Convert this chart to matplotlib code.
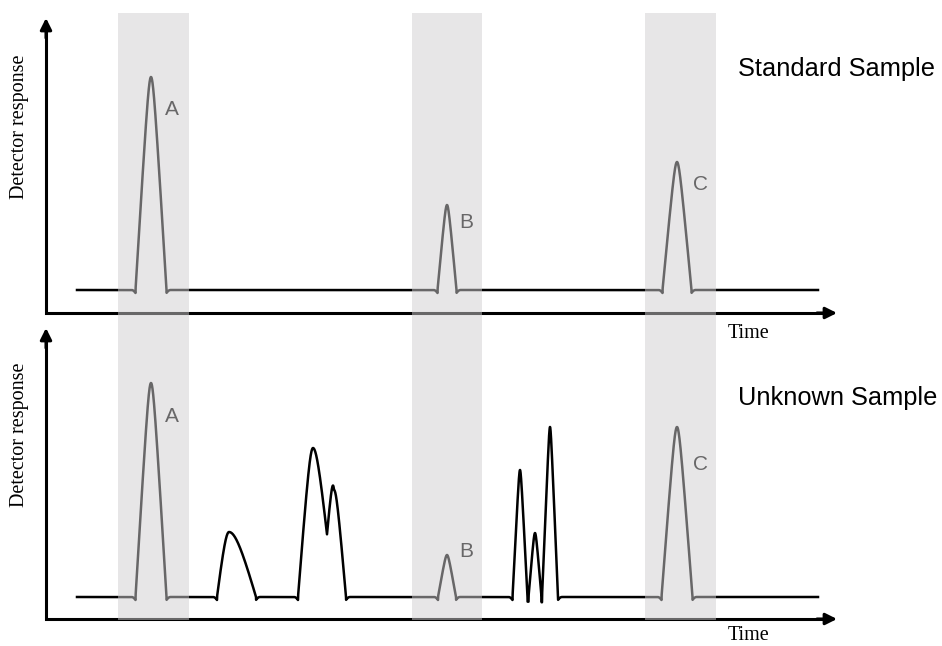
import numpy as np
import matplotlib
matplotlib.use('Agg')
import matplotlib.pyplot as plt
from matplotlib.patches import Rectangle

# ─────────────────────────────────────────
# DATA  (time and response in drawing units)
# ─────────────────────────────────────────
compounds = ['A', 'B', 'C']
window_start = [118, 412, 645]
window_end = [189, 482, 716]

# reference compounds: retention time, half base width, heights
ref_time = [151, 447, 677]
std_width = [15.5, 9.5, 14.5]
unk_width = [15.5, 9, 15.5]
std_height = [213, 85, 128]
unk_height = [214, 42, 170]

# extra components found only in the unknown sample
other_time = [229, 313, 334, 520, 535, 550]
other_height = [65, 149, 107, 127, 64, 170]
other_left = [12, 15, 7, 7.5, 6.5, 8]
other_right = [27, 21, 12, 7.5, 6.5, 8]
other_round = [0.45, 0.3, 0.3, 0.15, 0.2, 0.12]

time_start, time_end = 77, 818


def peak(t, c, h, wl, wr, r=0.2):
    # triangle with a rounded apex
    d = t - c
    w = np.where(d < 0, wl, wr)
    u = np.minimum(np.abs(d) / w, 1.0)
    top = np.sqrt(1 + r * r)
    return h * (top - np.sqrt(u * u + r * r)) / (top - r)


def undershoot(t, c, wl, wr, dip=3.0, L=4.0):
    d = t - c
    s = np.where(d < 0, -d - wl, d - wr)
    return np.where((s >= 0) & (s < L), -dip * (1 - s / L) ** 2, 0.0)


# ─────────────────────────────────────────
# LAYOUT
# ─────────────────────────────────────────
panels = [
    dict(title='Standard Sample', heights=std_height, widths=std_width, others=False,
         origin=(46, 313), top=18, baseline=290, title_y=76,
         ylab_y=127, time_y=338, lab_dy=[38, 23, 28]),
    dict(title='Unknown Sample', heights=unk_height, widths=unk_width, others=True,
         origin=(46, 619), top=328, baseline=597, title_y=405,
         ylab_y=435, time_y=640, lab_dy=[39, 2, 43]),
]
lab_dx = [14, 12, 16]
x_end = 837

fig = plt.figure(figsize=(9.42, 6.46), dpi=100)
ax = fig.add_axes([0, 0, 1, 1])
ax.set_xlim(0, 942)
ax.set_ylim(646, 0)
ax.axis('off')

t = np.arange(time_start, time_end + 0.01, 0.1)
arrow = dict(arrowstyle='-|>', color='black', lw=2.2, mutation_scale=17,
             shrinkA=0, shrinkB=0)

for p in panels:
    pos = np.zeros_like(t)
    neg = np.zeros_like(t)
    for c, h, w in zip(ref_time, p['heights'], p['widths']):
        pos += np.clip(peak(t, c, h, w, w), 0, None)
        neg += undershoot(t, c, w, w)
    if p['others']:
        for c, h, wl, wr, r in zip(other_time, other_height, other_left,
                                   other_right, other_round):
            pos += np.clip(peak(t, c, h, wl, wr, r), 0, None)
            neg += undershoot(t, c, wl, wr)
    sig = np.where(pos > 0, pos, neg)
    ax.plot(t, p['baseline'] - sig, color='black', lw=1.8,
            solid_joinstyle='round', zorder=2)

    x0, y0 = p['origin']
    ax.plot([x0, x0, x_end - 10], [p['top'] + 10, y0, y0], color='black',
            lw=2.2, solid_joinstyle='miter', zorder=2)
    ax.annotate('', xy=(x0, p['top']), xytext=(x0, p['top'] + 20), arrowprops=arrow)
    ax.annotate('', xy=(x_end, y0), xytext=(x_end - 20, y0), arrowprops=arrow)

    for name, c, h, dx, dy in zip(compounds, ref_time, p['heights'], lab_dx, p['lab_dy']):
        ax.text(c + dx, p['baseline'] - h + dy, name, fontsize=15,
                family='Liberation Sans', color='black', va='baseline', zorder=3)

    ax.text(738, p['title_y'], p['title'], fontsize=18.3,
            family='Liberation Sans', va='baseline', ha='left')
    ax.text(20, p['ylab_y'], 'Detector response', rotation=90, fontsize=14.5,
            family='Liberation Serif', ha='center', va='center')
    ax.text(749, p['time_y'], 'Time', fontsize=14.5,
            family='Liberation Serif', ha='center', va='baseline')

# retention windows, drawn as a translucent veil over everything
for s, e in zip(window_start, window_end):
    ax.add_patch(Rectangle((s, 13), e - s, 607, facecolor='#d0ced0',
                           alpha=0.5, edgecolor='none', zorder=5))

plt.savefig('out.png', dpi=100, facecolor='white')
plt.close()
